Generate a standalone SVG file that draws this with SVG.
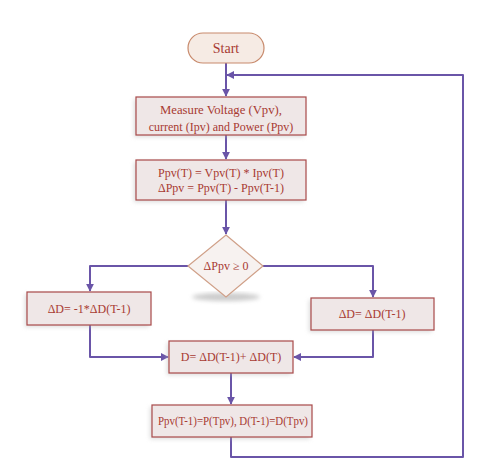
<svg xmlns="http://www.w3.org/2000/svg" width="494" height="470" viewBox="0 0 494 470">
<defs>
<style>
.box{fill:#efe7e7;stroke:#a84a4a;stroke-width:1.2}
.t{font-family:"Liberation Serif","Times New Roman",serif;font-size:12px;fill:#a83a32;text-anchor:middle}
.c{fill:none;stroke:#6a55a8;stroke-width:2;stroke-linejoin:round}
</style>
<marker id="ah" viewBox="0 0 10 10" refX="9" refY="5" markerWidth="4" markerHeight="4" orient="auto-start-reverse" markerUnits="strokeWidth">
<path d="M0,0 L10,5 L0,10 z" fill="#6a55a8"/>
</marker>
<filter id="sh" x="-20%" y="-20%" width="140%" height="160%">
<feGaussianBlur stdDeviation="2"/>
</filter>
</defs>
<rect width="494" height="470" fill="#ffffff"/>
<g id="connectors">
<path class="c" d="M226,63 V96" marker-end="url(#ah)"/>
<path class="c" d="M226,135 V159" marker-end="url(#ah)"/>
<path class="c" d="M226,200 V234" marker-end="url(#ah)"/>
<path class="c" d="M188,266 H90 V291" marker-end="url(#ah)"/>
<path class="c" d="M263,266 H373 V297" marker-end="url(#ah)"/>
<path class="c" d="M90,325 V357 H168" marker-end="url(#ah)"/>
<path class="c" d="M373,330 V357 H294" marker-end="url(#ah)"/>
<path class="c" d="M231,373 V404" marker-end="url(#ah)"/>
<path class="c" d="M231,437 V457 H463 V75 H227" marker-end="url(#ah)"/>
</g>
<g id="start">
<rect x="188" y="33" width="76" height="30" rx="15" fill="#f6ebe4" stroke="#c88a6c" stroke-width="1.2"/>
<text class="t" x="226" y="53" style="font-size:14px">Start</text>
</g>
<g id="measure">
<rect x="134" y="99" width="170" height="38" fill="#b8b8b8" opacity="0.5" filter="url(#sh)"/>
<rect class="box" x="136" y="97" width="170" height="38"/>
<text class="t" x="221" y="114" textLength="122" lengthAdjust="spacingAndGlyphs">Measure Voltage (Vpv),</text>
<text class="t" x="221" y="131">current (Ipv) and Power (Ppv)</text>
</g>
<g id="compute">
<rect x="134" y="162" width="170" height="40" fill="#b8b8b8" opacity="0.5" filter="url(#sh)"/>
<rect class="box" x="136" y="160" width="170" height="40"/>
<text class="t" x="221" y="177">Ppv(T) = Vpv(T) * Ipv(T)</text>
<text class="t" x="221" y="192">ΔPpv = Ppv(T) - Ppv(T-1)</text>
</g>
<g id="decision">
<ellipse cx="226" cy="297" rx="34" ry="4" fill="#999" opacity="0.5" filter="url(#sh)"/>
<path d="M226,235 L263,266 L226,297 L188,266 z" fill="#f7f2f0" stroke="#d0a088" stroke-width="1.2"/>
<text class="t" x="226" y="270">ΔPpv ≥ 0</text>
</g>
<g id="neg">
<rect x="25" y="294" width="124" height="33" fill="#b8b8b8" opacity="0.5" filter="url(#sh)"/>
<rect class="box" x="27" y="292" width="124" height="33"/>
<text class="t" x="89" y="313">ΔD= -1*ΔD(T-1)</text>
</g>
<g id="pos">
<rect x="309" y="300" width="123" height="32" fill="#b8b8b8" opacity="0.5" filter="url(#sh)"/>
<rect class="box" x="311" y="298" width="123" height="32"/>
<text class="t" x="372" y="318">ΔD= ΔD(T-1)</text>
</g>
<g id="update">
<rect x="167" y="343" width="124" height="32" fill="#b8b8b8" opacity="0.5" filter="url(#sh)"/>
<rect class="box" x="169" y="341" width="124" height="32"/>
<text class="t" x="231" y="361">D= ΔD(T-1)+ ΔD(T)</text>
</g>
<g id="store">
<rect x="150" y="407" width="160" height="32" fill="#b8b8b8" opacity="0.5" filter="url(#sh)"/>
<rect class="box" x="152" y="405" width="160" height="32"/>
<text class="t" x="233" y="425" textLength="150" lengthAdjust="spacingAndGlyphs">Ppv(T-1)=P(Tpv), D(T-1)=D(Tpv)</text>
</g>
</svg>
